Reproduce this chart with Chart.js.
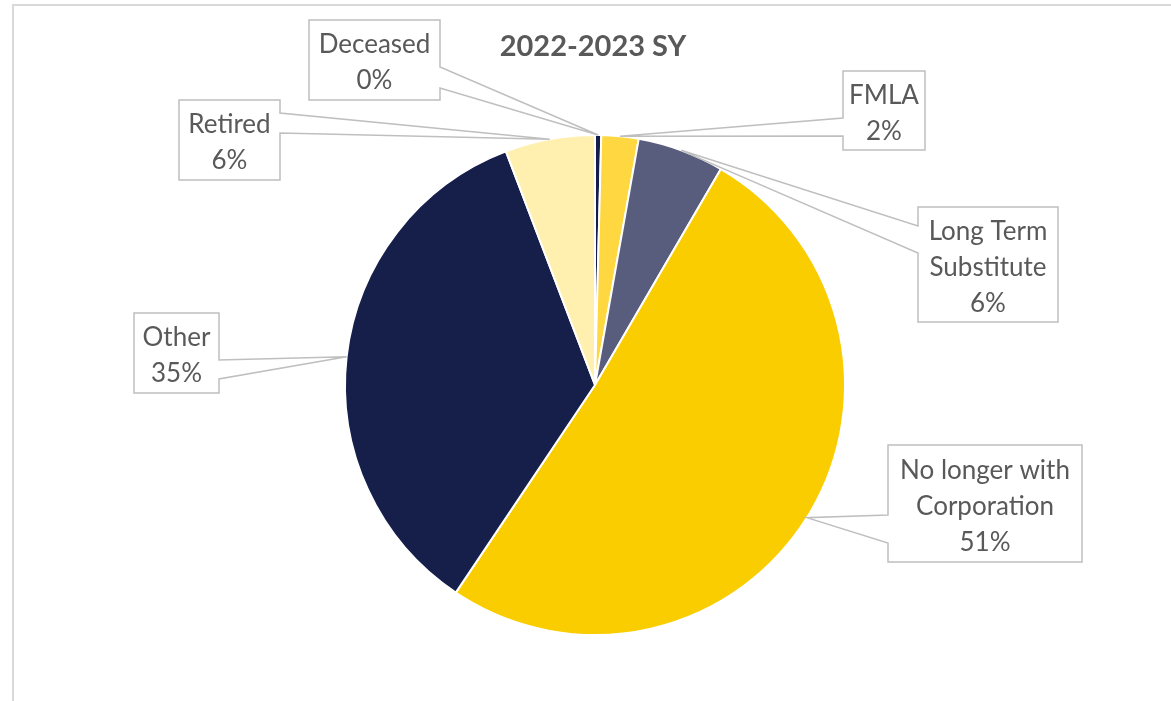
<!DOCTYPE html>
<html>
<head>
<meta charset="utf-8">
<script src="https://cdn.jsdelivr.net/npm/chart.js@4/dist/chart.umd.min.js"></script>
<style>
  html, body { margin: 0; padding: 0; background: #ffffff; }
  #wrap { width: 1171px; height: 701px; }
</style>
</head>
<body>
<div id="wrap"><canvas id="c" width="1171" height="701"></canvas></div>
<script>
// ---- Data ----
const chartTitle = "2022-2023 SY";
const categories = ["Deceased", "FMLA", "Long Term Substitute", "No longer with Corporation", "Other", "Retired"];
const labelLines = [["Deceased"], ["FMLA"], ["Long Term", "Substitute"], ["No longer with", "Corporation"], ["Other"], ["Retired"]];
const values = [0.4, 2.4, 5.6, 51.0, 34.8, 5.8];
const colors = ["#151d4a", "#ffd740", "#585d7d", "#facd00", "#161e4a", "#fff0b0"];

// ---- Label callout layout (box rect: x, y, w, h; wedge side & attach y's) ----
const calloutBoxes = [
  { x: 309, y: 20,  w: 131, h: 80,  side: "right", y1: 67,  y2: 88 },
  { x: 843, y: 71,  w: 82,  h: 79,  side: "left",  y1: 118, y2: 136 },
  { x: 918, y: 207, w: 140, h: 115, side: "left",  y1: 226, y2: 253 },
  { x: 888, y: 445, w: 194, h: 117, side: "left",  y1: 515, y2: 543 },
  { x: 134, y: 313, w: 85,  h: 80,  side: "right", y1: 360, y2: 379 },
  { x: 179, y: 100, w: 101, h: 80,  side: "right", y1: 113, y2: 133 }
];

const TEXT_COLOR = "#595959";
const LABEL_FONT = "26px Lato";
const LINE_H = 36;
const TEXT_SHIFT = 3;

const framePlugin = {
  id: "frame",
  beforeDraw(chart) {
    const ctx = chart.ctx;
    ctx.save();
    ctx.fillStyle = "#ffffff";
    ctx.fillRect(0, 0, chart.width, chart.height);
    ctx.strokeStyle = "#d9d9d9";
    ctx.lineWidth = 2;
    ctx.beginPath();
    ctx.moveTo(13, chart.height + 5);
    ctx.lineTo(13, 5);
    ctx.lineTo(chart.width + 5, 5);
    ctx.stroke();
    ctx.restore();
  }
};

const calloutPlugin = {
  id: "callouts",
  afterDatasetsDraw(chart) {
    const ctx = chart.ctx;
    const meta = chart.getDatasetMeta(0);
    const total = values.reduce((a, b) => a + b, 0);
    ctx.save();
    // title
    ctx.fillStyle = TEXT_COLOR;
    ctx.font = "bold 29px Lato";
    ctx.textAlign = "center";
    ctx.textBaseline = "middle";
    ctx.fillText(chartTitle, 593, 47);

    meta.data.forEach((arc, i) => {
      const b = calloutBoxes[i];
      const mid = (arc.startAngle + arc.endAngle) / 2;
      const tx = arc.x + Math.cos(mid) * arc.outerRadius;
      const ty = arc.y + Math.sin(mid) * arc.outerRadius;
      ctx.fillStyle = "#ffffff";
      ctx.fillRect(b.x, b.y, b.w, b.h);
      ctx.strokeStyle = "#bfbfbf";
      ctx.lineWidth = 1.5;
      ctx.beginPath();
      const L = b.x, R = b.x + b.w, T = b.y, B = b.y + b.h;
      ctx.moveTo(L, T);
      ctx.lineTo(R, T);
      if (b.side === "right") {
        ctx.lineTo(R, b.y1);
        ctx.lineTo(tx, ty);
        ctx.lineTo(R, b.y2);
      }
      ctx.lineTo(R, B);
      ctx.lineTo(L, B);
      if (b.side === "left") {
        ctx.lineTo(L, b.y2);
        ctx.lineTo(tx, ty);
        ctx.lineTo(L, b.y1);
      }
      ctx.closePath();
      ctx.stroke();
      const pct = Math.round(values[i] / total * 100) + "%";
      const lines = labelLines[i].concat([pct]);
      ctx.fillStyle = TEXT_COLOR;
      ctx.font = LABEL_FONT;
      ctx.textAlign = "center";
      ctx.textBaseline = "middle";
      const cx = b.x + b.w / 2;
      const cy = b.y + b.h / 2 + TEXT_SHIFT;
      const startY = cy - (lines.length - 1) * LINE_H / 2;
      lines.forEach((ln, k) => ctx.fillText(ln, cx, startY + k * LINE_H));
    });
    ctx.restore();
  }
};

new Chart(document.getElementById("c"), {
  type: "pie",
  data: {
    labels: categories,
    datasets: [{
      data: values,
      backgroundColor: colors,
      borderColor: "#ffffff",
      borderWidth: 2
    }]
  },
  options: {
    responsive: false,
    animation: false,
    layout: { padding: { left: 344, right: 325, top: 134, bottom: 65 } },
    plugins: {
      legend: { display: false },
      title: { display: false },
      tooltip: { enabled: false }
    }
  },
  plugins: [framePlugin, calloutPlugin]
});
</script>
</body>
</html>
